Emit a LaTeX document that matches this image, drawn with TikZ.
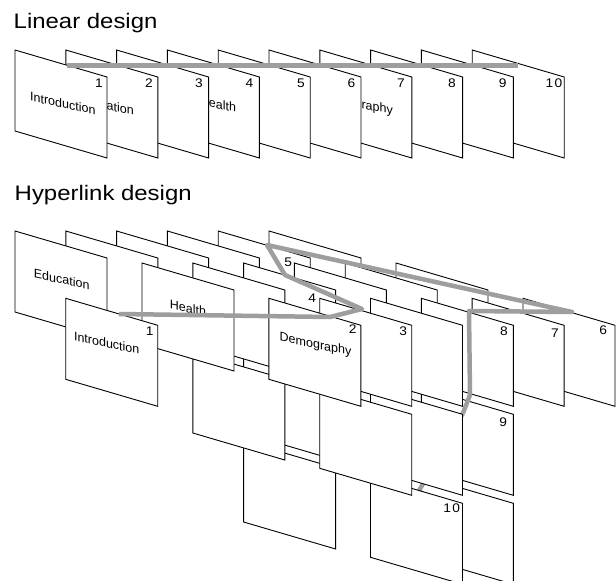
\documentclass[tikz,border=0pt]{standalone}
\usepackage{fontspec}
\setmainfont{Liberation Sans}
\definecolor{pathgray}{RGB}{158,158,158}
\newcommand\pgat[2]{\draw[pagestyle] (#1,#2) -- ++(92,27) -- ++(0,81) -- ++(-92,-27) -- cycle;}
\begin{document}
\begin{tikzpicture}[x=1pt,y=-1pt,
  pagestyle/.style={draw=black,fill=white,line width=0.9pt,line join=miter},
  pathline/.style={draw=pathgray,line width=4.5pt,line join=round},
  title/.style={anchor=base west,inner sep=0pt,font=\fontsize{21}{25}\selectfont,xscale=1.14},
  num/.style={inner sep=0pt,font=\fontsize{12.5}{15}\selectfont,xscale=1.1},
  lbl/.style={inner sep=0pt,font=\fontsize{12.5}{15}\selectfont,xscale=1.0,yslant=-0.21}]
\useasboundingbox (0,0) rectangle (616,581);
\clip (0,0) rectangle (616,581);

% ---------------- Linear design ----------------
\node[title] (t1) at (13.5,28.3) {Linear design};
\pgat{472.2}{50} \node[num] (ln10) at (554,83) {1\kern1.2pt 0};
\pgat{421.4}{50} \node[num] (ln9) at (502.6,83) {9};
\pgat{370.6}{50} \node[num] (ln8) at (452,83.5) {8};
\pgat{319.8}{50} \node[lbl] (lDem) at (357,104) {Demography};
                 \node[num] (ln7) at (401,83) {7};
\pgat{269.0}{50} \node[num] (ln6) at (351.5,83) {6};
\pgat{218.2}{50} \node[num] (ln5) at (301,83.5) {5};
\pgat{167.4}{50} \node[lbl] (lHea) at (218,104) {Health};
                 \node[num] (ln4) at (249.5,83.5) {4};
\pgat{116.6}{50} \node[num] (ln3) at (199,83) {3};
\pgat{65.8}{50}  \node[lbl] (lEdu) at (106,105) {Education};
                 \node[num] (ln2) at (149,83.5) {2};
\pgat{15}{50}    \node[lbl] (lInt) at (62.8,103.3) {Introduction};
                 \node[num] (ln1) at (99,83.5) {1};
\coordinate (la) at (67,65);
\coordinate (lb) at (518,65);
\draw[pathline,line width=5pt] (la) -- (lb);

% ---------------- Hyperlink design ----------------
\node[title] (t2) at (14.5,200.7) {Hyperlink design};
% row A
\pgat{269.0}{231}
\pgat{218.2}{231} \node[num] (h5) at (288.3,262.7) {5};
\pgat{167.4}{231}
\pgat{116.6}{231}
\pgat{65.8}{231}
\pgat{15}{231} \node[lbl] (hEdu) at (61.7,279.3) {Education};
% row B
\pgat{396.0}{263}
\pgat{345.2}{263}
\pgat{294.4}{263}
\pgat{243.6}{441}
\pgat{243.6}{352}
\pgat{243.6}{263} \node[num] (h4) at (312.3,297.7) {4};
\pgat{192.8}{352}
\pgat{192.8}{263}
\pgat{142.0}{263} \node[lbl] (hHea) at (188,308) {Health};
% row C
\pgat{523.0}{298.3} \node[num] (h6) at (603.3,330) {6};
\pgat{472.1}{298.3} \node[num] (h7) at (555,332.7) {7};
\pgat{421.3}{476.3}
\pgat{421.3}{387.3} \node[num] (h9) at (503.3,421.7) {9};
\pgat{421.3}{298.3} \node[num] (h8) at (504,331) {8};
\coordinate (p9) at (463,413);
\coordinate (p10) at (416,496);
\draw[pathline] (p9) -- (p10);
\pgat{370.5}{476.3} \node[num] (h10) at (451.7,508.3) {1\kern1.2pt 0};
\pgat{370.5}{387.3}
\pgat{370.5}{298.3}
\pgat{319.7}{387.3}
\pgat{319.7}{298.3} \node[num] (h3) at (403.3,330.7) {3};
\pgat{268.9}{298.3} \node[num] (h2) at (352.8,329.3) {2};
                    \node[lbl] (hDem) at (315.5,345) {Demography};
\pgat{65.7}{298.3}  \node[num] (h1) at (149.7,331) {1};
                    \node[lbl] (hInt) at (106.7,343) {Introduction};
% path
\coordinate (p1) at (119,314);
\coordinate (p2) at (330,317);
\coordinate (p3) at (362,309);
\coordinate (p4) at (285,275);
\coordinate (p5) at (267,245);
\coordinate (p6) at (572,312);
\coordinate (p7) at (469,311);
\coordinate (p8) at (470,395);
\draw[pathline] (p1) -- (p2) -- (p3) -- (p4) -- (p5) -- (p6) -- (p7) -- (p8) -- (p9);
\end{tikzpicture}
\end{document}
